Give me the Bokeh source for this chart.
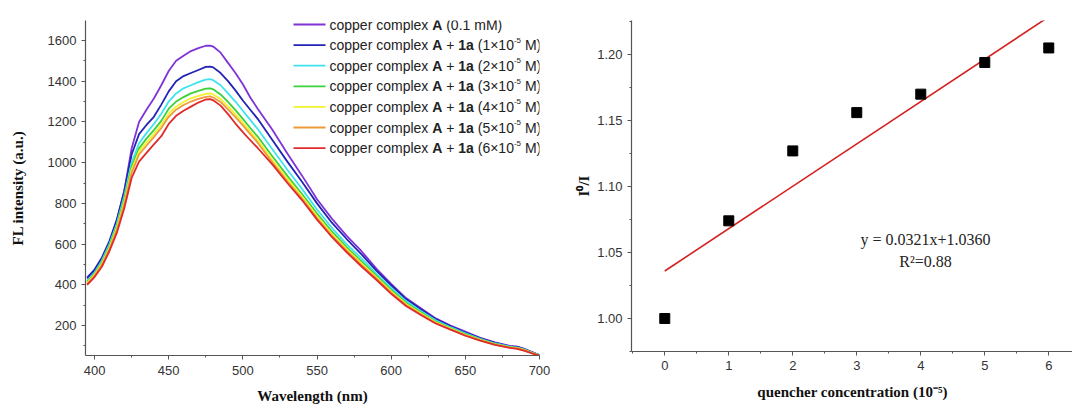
from bokeh.plotting import figure
from bokeh.layouts import row
from bokeh.models import FixedTicker, Label, PrintfTickFormatter
from bokeh.embed import file_html
from bokeh.resources import INLINE

# ---------------- data ----------------
wavelength = [395, 400, 405, 410, 415, 420, 425, 430, 435, 440, 445, 450, 455, 460, 465, 470,
              475, 478, 480, 485, 490, 495, 500, 505, 510, 520, 530, 540, 550, 560, 570, 580,
              590, 600, 610, 620, 630, 640, 650, 660, 670, 680, 685, 690, 695, 700]

fl_A = [430, 468, 525, 605, 715, 860, 1070, 1200, 1260, 1315, 1380, 1450, 1500, 1525, 1548, 1562,
        1574, 1575, 1570, 1540, 1490, 1440, 1385, 1320, 1265, 1160, 1045, 935, 820, 725, 640, 565,
        480, 405, 335, 285, 235, 200, 170, 140, 118, 100, 97, 85, 70, 55]
fl_1 = [435, 475, 535, 615, 720, 860, 1040, 1140, 1185, 1225, 1285, 1350, 1400, 1425, 1440, 1455,
        1470, 1472, 1468, 1440, 1400, 1355, 1305, 1260, 1215, 1110, 1005, 905, 800, 705, 625, 550,
        470, 398, 330, 280, 232, 197, 165, 138, 115, 98, 95, 84, 68, 55]
fl_2 = [420, 460, 520, 600, 700, 835, 1000, 1095, 1145, 1190, 1240, 1300, 1340, 1365, 1380, 1395,
        1408, 1410, 1405, 1380, 1340, 1300, 1255, 1210, 1165, 1065, 965, 870, 770, 680, 600, 530,
        455, 385, 320, 272, 226, 192, 162, 135, 112, 96, 92, 82, 67, 55]
fl_3 = [415, 455, 512, 590, 690, 820, 980, 1070, 1118, 1160, 1205, 1265, 1300, 1322, 1340, 1352,
        1363, 1365, 1360, 1335, 1298, 1258, 1215, 1170, 1128, 1030, 935, 845, 750, 662, 585, 515,
        445, 375, 312, 265, 220, 188, 158, 132, 110, 94, 90, 80, 66, 54]
fl_4 = [410, 450, 505, 582, 680, 805, 965, 1055, 1098, 1140, 1185, 1240, 1275, 1298, 1316, 1328,
        1338, 1340, 1335, 1312, 1276, 1238, 1196, 1152, 1110, 1012, 920, 832, 738, 650, 575, 505,
        438, 368, 306, 260, 216, 185, 155, 130, 108, 93, 89, 79, 65, 54]
fl_5 = [405, 445, 498, 575, 670, 795, 950, 1040, 1083, 1125, 1170, 1225, 1260, 1283, 1300, 1313,
        1323, 1325, 1320, 1298, 1262, 1224, 1183, 1140, 1098, 1000, 908, 822, 728, 642, 568, 498,
        432, 362, 301, 256, 213, 182, 153, 128, 106, 92, 88, 78, 64, 53]
fl_6 = [400, 438, 490, 565, 655, 775, 925, 1005, 1048, 1090, 1130, 1190, 1230, 1255, 1275, 1295,
        1310, 1312, 1306, 1280, 1238, 1192, 1150, 1110, 1072, 990, 900, 815, 720, 635, 560, 490,
        425, 356, 296, 252, 210, 180, 150, 126, 105, 90, 86, 76, 63, 52]

spectra = [fl_A, fl_1, fl_2, fl_3, fl_4, fl_5, fl_6]
conc_labels = ["0.1 mM", "1", "2", "3", "4", "5", "6"]
line_colors = ["#8033d6", "#2323b5", "#3fe3ee", "#3ad13a", "#f2f22e", "#ef9a3c", "#e02b2b"]

quencher_conc = [0, 1, 2, 3, 4, 5, 6]
i0_over_i = [1.000, 1.074, 1.127, 1.156, 1.170, 1.194, 1.205]
fit_slope = 0.0321
fit_intercept = 1.0360
fit_r2 = 0.88
fit_x = [0, 6]

# ---------------- styling helpers ----------------
TICK_FONT = "Liberation Sans"
LABEL_FONT = "Liberation Serif"
AXIS_COLOR = "#555555"


def style_axis(ax, label_standoff, tick_standoff=5):
    ax.axis_line_color = AXIS_COLOR
    ax.axis_line_width = 1.2
    ax.major_tick_line_color = AXIS_COLOR
    ax.minor_tick_line_color = AXIS_COLOR
    ax.major_tick_in = 0
    ax.major_tick_out = 4
    ax.minor_tick_in = 0
    ax.minor_tick_out = 2
    ax.major_label_text_font = TICK_FONT
    ax.major_label_text_font_size = "13px"
    ax.major_label_text_color = "#333333"
    ax.major_label_standoff = tick_standoff
    ax.axis_label_text_font = LABEL_FONT
    ax.axis_label_text_font_style = "bold"
    ax.axis_label_text_font_size = "15px"
    ax.axis_label_text_color = "#111111"
    ax.axis_label_standoff = label_standoff


# ---------------- left figure ----------------
L_FW, L_FH = 454, 335
L_X = (393.9, 700.0)
L_Y = (53.0, 1698.0)

p1 = figure(frame_width=L_FW, frame_height=L_FH, x_range=L_X, y_range=L_Y,
            min_border_left=85, min_border_right=34, min_border_top=20, min_border_bottom=48,
            output_backend="svg", toolbar_location=None, tools="")
p1.xgrid.visible = False
p1.ygrid.visible = False
p1.outline_line_color = None

for ys, c in zip(spectra, line_colors):
    p1.line(wavelength, ys, line_color=c, line_width=1.8)

p1.xaxis.ticker = FixedTicker(ticks=[400, 450, 500, 550, 600, 650, 700],
                              minor_ticks=[425, 475, 525, 575, 625, 675])
p1.yaxis.ticker = FixedTicker(ticks=[200, 400, 600, 800, 1000, 1200, 1400, 1600],
                              minor_ticks=[100, 300, 500, 700, 900, 1100, 1300, 1500, 1700])
p1.xaxis.axis_label = "Wavelength (nm)"
p1.yaxis.axis_label = "FL intensity (a.u.)"
style_axis(p1.xaxis[0], 10, 6)
style_axis(p1.yaxis[0], 19)


def lx(off):
    return L_X[0] + off / L_FW * (L_X[1] - L_X[0])


def ly(off):
    return L_Y[1] - off / L_FH * (L_Y[1] - L_Y[0])


# Arial-like advance widths (per 1000 em) for legend text layout
W_REG = {'c': 500, 'o': 556, 'p': 556, 'e': 556, 'r': 333, ' ': 278, 'm': 833, 'l': 222,
         'x': 500, '(': 333, ')': 333, '.': 278, 'M': 833, '×': 584, '+': 584, '-': 333,
         'A': 667, 'a': 556}
W_BOLD = {'A': 722, '1': 556, 'a': 556, ' ': 278}


def tw(s, bold, size):
    tab = W_BOLD if bold else W_REG
    return sum(tab.get(ch, 556) for ch in s) * size / 1000.0


LEG_SIZE = 14
SUP_SIZE = 8
row_offsets = [4 + 20.6 * i for i in range(len(conc_labels))]
for i, (lab, c) in enumerate(zip(conc_labels, line_colors)):
    yo = row_offsets[i]
    p1.segment(x0=[lx(208)], y0=[ly(yo)], x1=[lx(240)], y1=[ly(yo)], line_color=c, line_width=1.8)
    if i == 0:
        pieces = [("copper complex ", "n"), ("A", "b"), (" (" + lab + ")", "n")]
    else:
        pieces = [("copper complex ", "n"), ("A", "b"), (" + ", "n"), ("1a", "b"),
                  (" (" + lab + "×10", "n"), ("-5", "s"), (" M)", "n")]
    xo = 244.0
    for txt, kind in pieces:
        size = SUP_SIZE if kind == "s" else LEG_SIZE
        bold = kind == "b"
        lead = len(txt) - len(txt.lstrip(" "))
        start = xo + tw(" " * lead, bold, size)
        p1.add_layout(Label(x=lx(start), y=ly(yo - 5 if kind == "s" else yo), text=txt.strip(" "),
                            text_font=TICK_FONT, text_font_size=f"{size}px", text_color="#222222",
                            text_font_style="bold" if bold else "normal",
                            text_baseline="middle", text_align="left"))
        xo += tw(txt, bold, size)

# ---------------- right figure ----------------
R_FW, R_FH = 442, 331
R_X = (-0.52, -0.52 + 442 / 64.0)
R_Y = (0.975, 1.2258)

p2 = figure(frame_width=R_FW, frame_height=R_FH, x_range=R_X, y_range=R_Y,
            min_border_left=56, min_border_right=0, min_border_top=17, min_border_bottom=55,
            output_backend="svg", toolbar_location=None, tools="")
p2.xgrid.visible = False
p2.ygrid.visible = False
p2.outline_line_color = None

fit_y = [fit_intercept + fit_slope * x for x in fit_x]
p2.line(fit_x, fit_y, line_color="#d42020", line_width=1.6)
p2.scatter(quencher_conc, i0_over_i, marker="square", size=10, fill_color="black",
           line_color="black")

p2.xaxis.ticker = FixedTicker(ticks=quencher_conc, minor_ticks=[-0.5, 0.5, 1.5, 2.5, 3.5, 4.5, 5.5, 6.5])
p2.yaxis.ticker = FixedTicker(ticks=[1.00, 1.05, 1.10, 1.15, 1.20],
                              minor_ticks=[0.975, 1.025, 1.075, 1.125, 1.175, 1.225])
p2.yaxis.formatter = PrintfTickFormatter(format="%.2f")
p2.xaxis.axis_label = "quencher concentration (10⁻⁵)"
p2.yaxis.axis_label = "I⁰/I"
style_axis(p2.xaxis[0], 11)
style_axis(p2.yaxis[0], 2)


def rx(px_off):
    return R_X[0] + px_off / R_FW * (R_X[1] - R_X[0])


def ry(py_off):
    return R_Y[1] - py_off / R_FH * (R_Y[1] - R_Y[0])


p2.add_layout(Label(x=rx(294), y=ry(219), text=f"y = {fit_slope:.4f}x+{fit_intercept:.4f}",
                    text_font=LABEL_FONT, text_font_size="16px", text_color="#222222",
                    text_align="center", text_baseline="middle"))
p2.add_layout(Label(x=rx(294), y=ry(241), text=f"R²={fit_r2:.2f}",
                    text_font=LABEL_FONT, text_font_size="16px", text_color="#222222",
                    text_align="center", text_baseline="middle"))

layout = row(p1, p2)
open("out.html", "w").write(file_html(layout, INLINE))
